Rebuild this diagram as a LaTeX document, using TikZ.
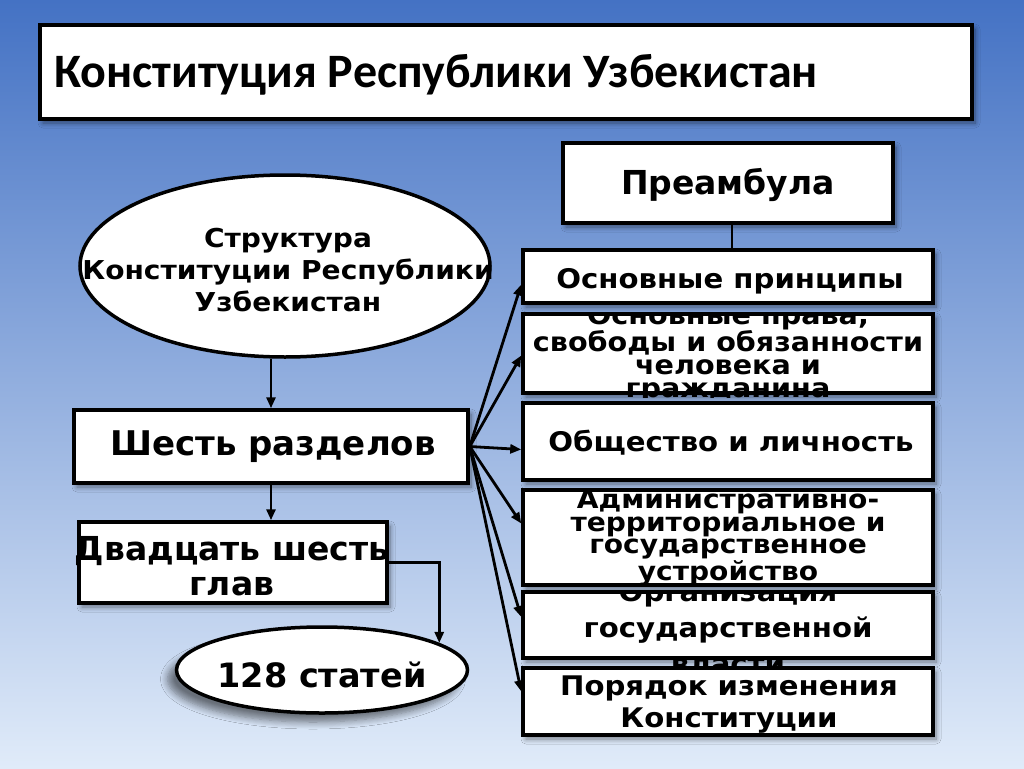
\documentclass[tikz,border=0pt]{standalone}
\usepackage{fontspec}
\setmainfont{DejaVu Sans}
\newfontfamily\titlefont{Carlito}
\newfontfamily\wide{DejaVu Sans}[FakeStretch=1.08]
\usetikzlibrary{shapes.geometric,arrows.meta,shadows.blur,calc}
\definecolor{bgtop}{RGB}{68,114,196}
\definecolor{bgmid}{RGB}{168,198,236}
\definecolor{bgbot}{RGB}{224,235,249}
\begin{document}
\begin{tikzpicture}[x=1pt,y=-1pt,
  shade/.style={blur shadow={shadow xshift=3pt,shadow yshift=-4pt,shadow opacity=45,shadow blur steps=8,shadow blur radius=5pt}},
  box/.style={draw=black, line width=3.5pt, fill=white, inner sep=0pt, shade},
  oval/.style={ellipse, draw=black, line width=3.5pt, fill=white, inner sep=0pt},
  txt/.style={inner sep=0pt, align=center, font=\wide\bfseries\fontsize{27}{27}\selectfont},
  link/.style={line width=2.8pt, draw=black},
  arr/.style={link, -{Triangle[length=11pt,width=9pt]}}
]
\useasboundingbox (0,0) rectangle (1024,768);
\shade[top color=bgtop, middle color=bgmid, bottom color=bgbot] (0,0) rectangle (1024,768);

% title
\node[box, minimum width=932pt, minimum height=94pt] (title) at (506,72) {};
\node[anchor=base west, inner sep=0pt, font=\titlefont\bfseries\fontsize{48}{48}\selectfont] (titletxt) at (54,87) {Конституция Республики Узбекистан};

% preamble
\node[box, minimum width=330pt, minimum height=80pt] (pre) at (728,183) {};
\node[txt, font=\bfseries\fontsize{33}{33}\selectfont] (pretxt) at (728,185) {Преамбула};
\coordinate (prejoin) at ($(pre.south)+(4,0)$);

% structure ellipse
\node[oval, minimum width=410pt, minimum height=182pt] (struct) at (285,266) {};
\node[txt, font=\wide\bfseries\fontsize{26}{32}\selectfont] (structtxt) at (288,270) {Структура\\Конституции Республики\\Узбекистан};

% six sections
\node[box, minimum width=394pt, minimum height=73pt] (six) at (271,446.5) {};
\node[txt, font=\bfseries\fontsize{34}{34}\selectfont] (sixtxt) at (273,447) {Шесть разделов};

% twenty six chapters
\node[box, minimum width=308pt, minimum height=81pt] (d26) at (233,562.5) {};
\node[txt, font=\bfseries\fontsize{33}{35}\selectfont] (d26txt) at (232,566) {Двадцать шесть\\глав};

% 128 articles
\node[oval, minimum width=291pt, minimum height=86pt, blur shadow={shadow xshift=-9pt,shadow yshift=-9pt,shadow opacity=50,shadow blur steps=8,shadow blur radius=7pt}] (s128) at (322,670) {};
\node[txt, font=\bfseries\fontsize{33.5}{33.5}\selectfont] (s128txt) at (322,675) {128 статей};

% right boxes
\node[box, minimum width=410pt, minimum height=53pt] (b1) at (728,276.5) {};
\begin{scope}
\clip (500,248) rectangle (960,306);
\node[txt] (b1txt) at (730,281) {Основные принципы};
\end{scope}

\node[box, minimum width=410pt, minimum height=79pt] (b2) at (728,353.5) {};
\begin{scope}
\clip (500,313) rectangle (960,397);
\node[txt, font=\wide\bfseries\fontsize{26.5}{23}\selectfont] (b2txt) at (728,354) {Основные права,\\свободы и обязанности\\человека и\\гражданина};
\end{scope}

\node[box, minimum width=410pt, minimum height=77pt] (b3) at (728,441.5) {};
\node[txt] (b3txt) at (731,443) {Общество и личность};

\node[box, minimum width=410pt, minimum height=95pt] (b4) at (728,537.5) {};
\begin{scope}
\clip (500,488) rectangle (960,588);
\node[txt, font=\wide\bfseries\fontsize{26}{22.5}\selectfont] (b4txt) at (728,538) {Административно-\\территориальное и\\государственное\\устройство};
\end{scope}

\node[box, minimum width=410pt, minimum height=66pt] (b5) at (728,625) {};
\begin{scope}
\clip (500,591) rectangle (960,668);
\node[txt, font=\wide\bfseries\fontsize{27}{36}\selectfont] (b5txt) at (728,628) {Организация\\государственной\\власти};
\end{scope}

\node[box, minimum width=410pt, minimum height=67pt] (b6) at (728,701.5) {};
\node[txt, font=\wide\bfseries\fontsize{27}{32}\selectfont] (b6txt) at (729,705) {Порядок изменения\\Конституции};

% connectors
\draw[link] (prejoin) -- (prejoin |- b1.north);
\draw[arr] (struct.south -| six.north) -- (six.north);
\draw[arr] (six.south) -- (six.south |- d26.north);
\draw[arr] (d26.east) -| (s128.13);
\draw[arr] (six.east) -- ($(b1.west)+(0,8)$);
\draw[arr] (six.east) -- ($(b2.west)+(0,2)$);
\draw[arr] (six.east) -- ($(b3.west)+(0,8)$);
\draw[arr] (six.east) -- ($(b4.west)+(0,-14)$);
\draw[arr] (six.east) -- ($(b5.west)+(0,-8)$);
\draw[arr] (six.east) -- ($(b6.west)+(0,-10)$);
\end{tikzpicture}
\end{document}
